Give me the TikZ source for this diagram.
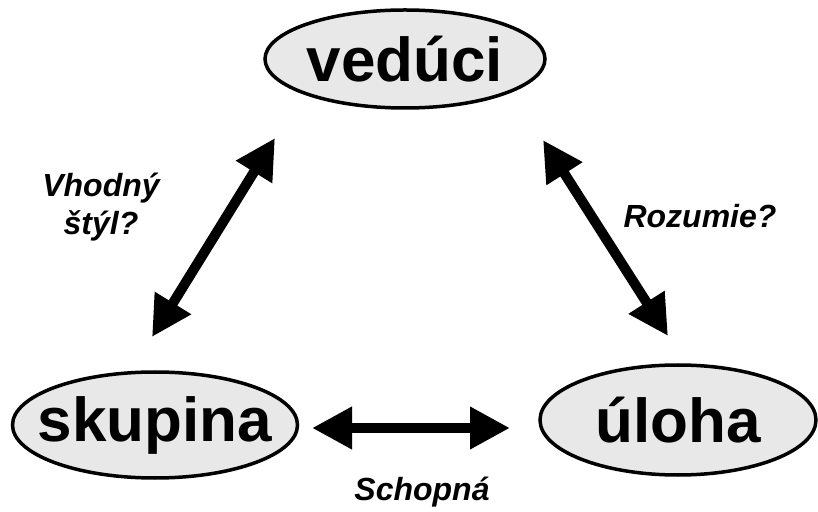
\documentclass[tikz,border=0pt]{standalone}
\usepackage{fontspec}
\setmainfont{Liberation Sans}
\usepackage{tikz}
\usetikzlibrary{shapes.geometric,arrows.meta}

\begin{document}
\begin{tikzpicture}[x=1pt, y=1pt,
    oval/.style={ellipse, draw=black, fill=gray!18, line width=3.5pt, inner sep=0pt,
        font=\fontsize{62}{62}\selectfont\bfseries},
    link/.style={line width=10pt, {Triangle[length=40pt,width=40pt]}-{Triangle[length=40pt,width=40pt]}},
    question/.style={font=\fontsize{32}{38}\selectfont\bfseries\itshape, align=center}]

    \useasboundingbox (0,0) rectangle (818,511);

    % Define the three corners
    \node[oval, minimum width=280pt, minimum height=98pt] (Leader) at (405,452) {\makebox[0pt]{vedúci}};
    \node[oval, minimum width=285pt, minimum height=106pt] (Group) at (155,86) {\makebox[0pt]{skupina}};
    \node[oval, minimum width=276pt, minimum height=110pt] (Task) at (678,91) {\makebox[0pt]{úloha}};

    % Arrow ends, kept clear of the ovals
    \coordinate (LeaderL) at ([shift={(-130,-79)}]Leader.center);
    \coordinate (LeaderR) at ([shift={(138,-81)}]Leader.center);
    \coordinate (GroupT) at ([shift={(-3,88)}]Group.center);
    \coordinate (GroupR) at ([shift={(157,-3)}]Group.center);
    \coordinate (TaskT) at ([shift={(-10,84)}]Task.center);
    \coordinate (TaskL) at ([shift={(-168,-8)}]Task.center);

    % Double arrows between the corners
    \draw[link] (LeaderL) -- (GroupT);
    \draw[link] (LeaderR) -- (TaskT);
    \draw[link] (GroupR) -- (TaskL);

    % Questions along the arrows
    \node[question] (Style) at (101,304) {Vhodný\\štýl?};
    \node[question] (Grasp) at (700,295) {Rozumie?};
    \node[question] (Able) at (422,19) {Schopná};
\end{tikzpicture}
\end{document}
